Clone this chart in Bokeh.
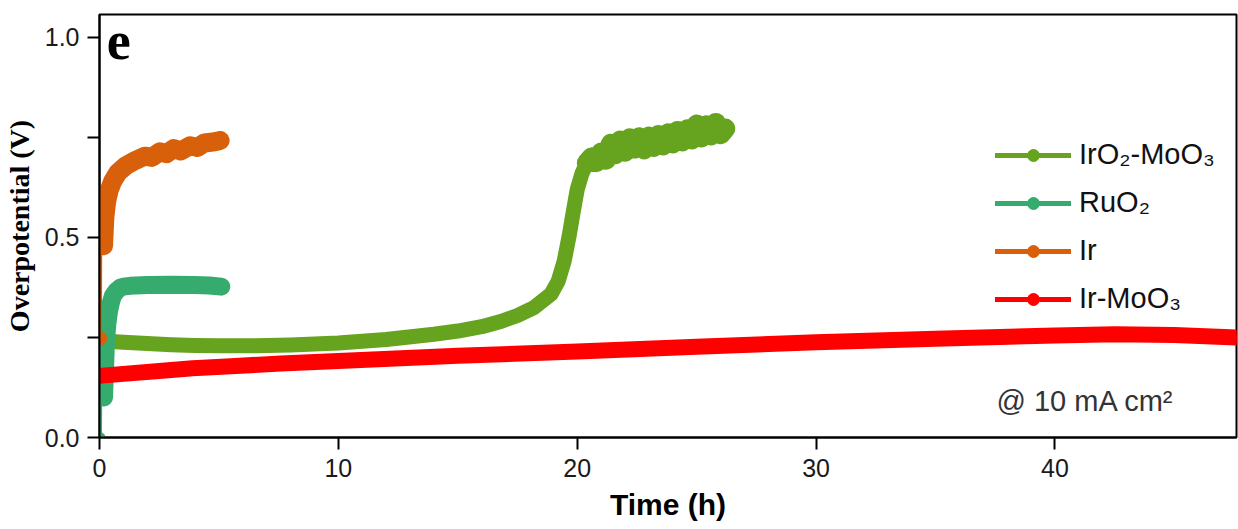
from bokeh.plotting import figure
from bokeh.models import (Range1d, FixedTicker, NumeralTickFormatter, Legend, LegendItem, Label)
from bokeh.embed import file_html
from bokeh.resources import INLINE

# ---------------- data ----------------
# Ir-MoO3
irmoo3_t = [0, 1, 2.5, 3.9, 5.5, 7.6, 10, 15, 20, 25, 30, 35, 40, 42.5, 45, 47.6]
irmoo3_v = [0.154, 0.159, 0.166, 0.173, 0.178, 0.185, 0.191, 0.204, 0.215, 0.227, 0.238, 0.247, 0.255, 0.258, 0.256, 0.250]

# IrO2-MoO3 (before and after the sharp rise)
iro2_low_t = [0.2, 1, 2, 3, 4, 5, 6.5, 8, 10, 12, 14, 15, 16, 16.8, 17.5, 18.2, 18.9, 19.2, 19.45, 19.65, 19.85, 20.0, 20.2, 20.4]
iro2_low_v = [0.241, 0.238, 0.235, 0.232, 0.230, 0.229, 0.229, 0.231, 0.236, 0.245, 0.258, 0.266, 0.277, 0.290, 0.305, 0.325, 0.358, 0.390, 0.440, 0.500, 0.570, 0.620, 0.660, 0.686]
iro2_high_t = [20.4, 20.6, 20.8, 21.0, 21.2, 21.4, 21.6, 21.8, 22.0, 22.2, 22.4, 22.6, 22.8, 23.0, 23.2, 23.4,
               23.6, 23.8, 24.0, 24.2, 24.4, 24.6, 24.8, 25.0, 25.2, 25.4, 25.6, 25.8, 26.0, 26.2]
iro2_high_v = [0.686, 0.700, 0.688, 0.712, 0.694, 0.734, 0.708, 0.742, 0.714, 0.748, 0.722, 0.750, 0.720, 0.752, 0.726, 0.756,
               0.730, 0.760, 0.735, 0.766, 0.740, 0.770, 0.745, 0.782, 0.750, 0.780, 0.755, 0.786, 0.758, 0.772]

# RuO2 (thin start, then the thick trace)
ruo2_start_t = [0.02, 0.03]
ruo2_start_v = [0.0, 0.10]
ruo2_t = [0.19, 0.23, 0.27, 0.33, 0.40, 0.48, 0.56, 0.70, 0.86, 1.0, 1.28, 2.0, 3.0, 4.0, 4.6, 5.1]
ruo2_v = [0.10, 0.17, 0.24, 0.285, 0.316, 0.338, 0.354, 0.366, 0.374, 0.377, 0.379, 0.381, 0.382, 0.381, 0.380, 0.377]

# Ir (thin start, then the thick trace)
ir_start_t = [0.04, 0.05]
ir_start_v = [0.248, 0.46]
ir_t = [0.17, 0.20, 0.23, 0.30, 0.40, 0.55, 0.77, 1.1, 1.49, 1.9, 2.2, 2.53, 2.8, 3.1, 3.4, 3.79, 4.1, 4.4, 4.83, 5.05]
ir_v = [0.479, 0.520, 0.554, 0.590, 0.617, 0.640, 0.662, 0.679, 0.692, 0.703, 0.700, 0.714, 0.709, 0.722, 0.716, 0.729, 0.725, 0.736, 0.739, 0.742]

labels = ["IrO\u2082-MoO\u2083", "RuO\u2082", "Ir", "Ir-MoO\u2083"]
colors = ["#66A31E", "#35AC6E", "#D9600A", "#FF0000"]

y_ticks = [0.0, 0.5, 1.0]
y_minor = [0.25, 0.75]
x_ticks = [0, 10, 20, 30, 40]

# ---------------- figure ----------------
p = figure(width=1238, height=529, output_backend="svg", toolbar_location=None,
           x_range=Range1d(0, 47.6), y_range=Range1d(0, 1.057),
           frame_width=1137, frame_height=423,
           min_border_left=99, min_border_right=2, min_border_top=14, min_border_bottom=92)
p.grid.visible = False
p.outline_line_color = "black"
p.outline_line_width = 2
p.background_fill_color = "white"
p.border_fill_color = "white"

series_for_legend = [(iro2_low_t, iro2_low_v), (ruo2_t, ruo2_v), (ir_t, ir_v), (irmoo3_t, irmoo3_v)]

# legend proxies (drawn first, hidden beneath the thick traces)
items = []
for (t, v), lab, c in zip(series_for_legend, labels, colors):
    r1 = p.line(t, v, line_color=c, line_width=5, line_cap="round")
    r2 = p.scatter(t, v, marker="circle", size=12, fill_color=c, line_color=c)
    items.append(LegendItem(label=lab, renderers=[r1, r2]))

c_iro2, c_ruo2, c_ir, c_irmoo3 = colors
# IrO2-MoO3
p.line(iro2_low_t, iro2_low_v, line_color=c_iro2, line_width=15, line_cap="round", line_join="round")
p.line(iro2_high_t, iro2_high_v, line_color=c_iro2, line_width=20, line_cap="round", line_join="round")
# RuO2
p.line(ruo2_start_t, ruo2_start_v, line_color=c_ruo2, line_width=4, line_cap="round")
p.scatter(ruo2_start_t[:1], ruo2_start_v[:1], marker="circle", size=10, fill_color=c_ruo2, line_color=c_ruo2)
p.line(ruo2_t, ruo2_v, line_color=c_ruo2, line_width=18, line_cap="round", line_join="round")
# Ir
p.line(ir_start_t, ir_start_v, line_color=c_ir, line_width=3, line_cap="round")
p.scatter(ir_start_t[:1], ir_start_v[:1], marker="circle", size=13, fill_color=c_ir, line_color=c_ir)
p.line(ir_t, ir_v, line_color=c_ir, line_width=19, line_cap="round", line_join="round")
# Ir-MoO3
p.line(irmoo3_t, irmoo3_v, line_color=c_irmoo3, line_width=16, line_cap="round", line_join="round")

leg = Legend(items=items, location=(896, 122), border_line_color=None,
             background_fill_alpha=0, padding=0, margin=0, spacing=15,
             glyph_width=76, glyph_height=30, label_height=30, label_standoff=8,
             label_text_font="Liberation Sans", label_text_font_size="29px",
             label_text_color="#111111")
p.add_layout(leg, "center")

# axes
for ax in (p.xaxis[0], p.yaxis[0]):
    ax.axis_line_color = "black"
    ax.axis_line_width = 2
    ax.major_tick_line_color = "black"
    ax.major_tick_line_width = 2
    ax.minor_tick_line_color = "black"
    ax.minor_tick_line_width = 2
    ax.major_tick_in = 0
    ax.major_tick_out = 12
    ax.minor_tick_in = 0
    ax.minor_tick_out = 12
    ax.major_label_text_font = "Liberation Sans"
    ax.major_label_text_font_size = "25px"
    ax.major_label_text_color = "#1a1a1a"

p.yaxis.ticker = FixedTicker(ticks=y_ticks, minor_ticks=y_minor)
p.yaxis.formatter = NumeralTickFormatter(format="0.0")
p.yaxis.major_label_standoff = 8
p.yaxis.axis_label = "Overpotential (V)"
p.yaxis.axis_label_text_font = "Liberation Serif"
p.yaxis.axis_label_text_font_style = "bold"
p.yaxis.axis_label_text_font_size = "28px"
p.yaxis.axis_label_text_color = "black"
p.yaxis.axis_label_standoff = 7

p.xaxis.ticker = FixedTicker(ticks=x_ticks, minor_ticks=[])
p.xaxis.major_label_standoff = 9
p.xaxis.axis_label = "Time (h)"
p.xaxis.axis_label_text_font = "Liberation Sans"
p.xaxis.axis_label_text_font_style = "bold"
p.xaxis.axis_label_text_font_size = "30px"
p.xaxis.axis_label_text_color = "black"
p.xaxis.axis_label_standoff = 8

p.add_layout(Label(x=0.3, y=0.99, text="e", text_font="Liberation Serif",
                   text_font_style="bold", text_font_size="54px", text_color="black",
                   text_baseline="middle", text_align="left"))
p.add_layout(Label(x=37.55, y=0.09, text="@ 10 mA cm\u00b2", text_font="Liberation Sans",
                   text_font_size="29px", text_color="#333333",
                   text_baseline="middle", text_align="left"))

open("out.html", "w").write(file_html(p, INLINE))
